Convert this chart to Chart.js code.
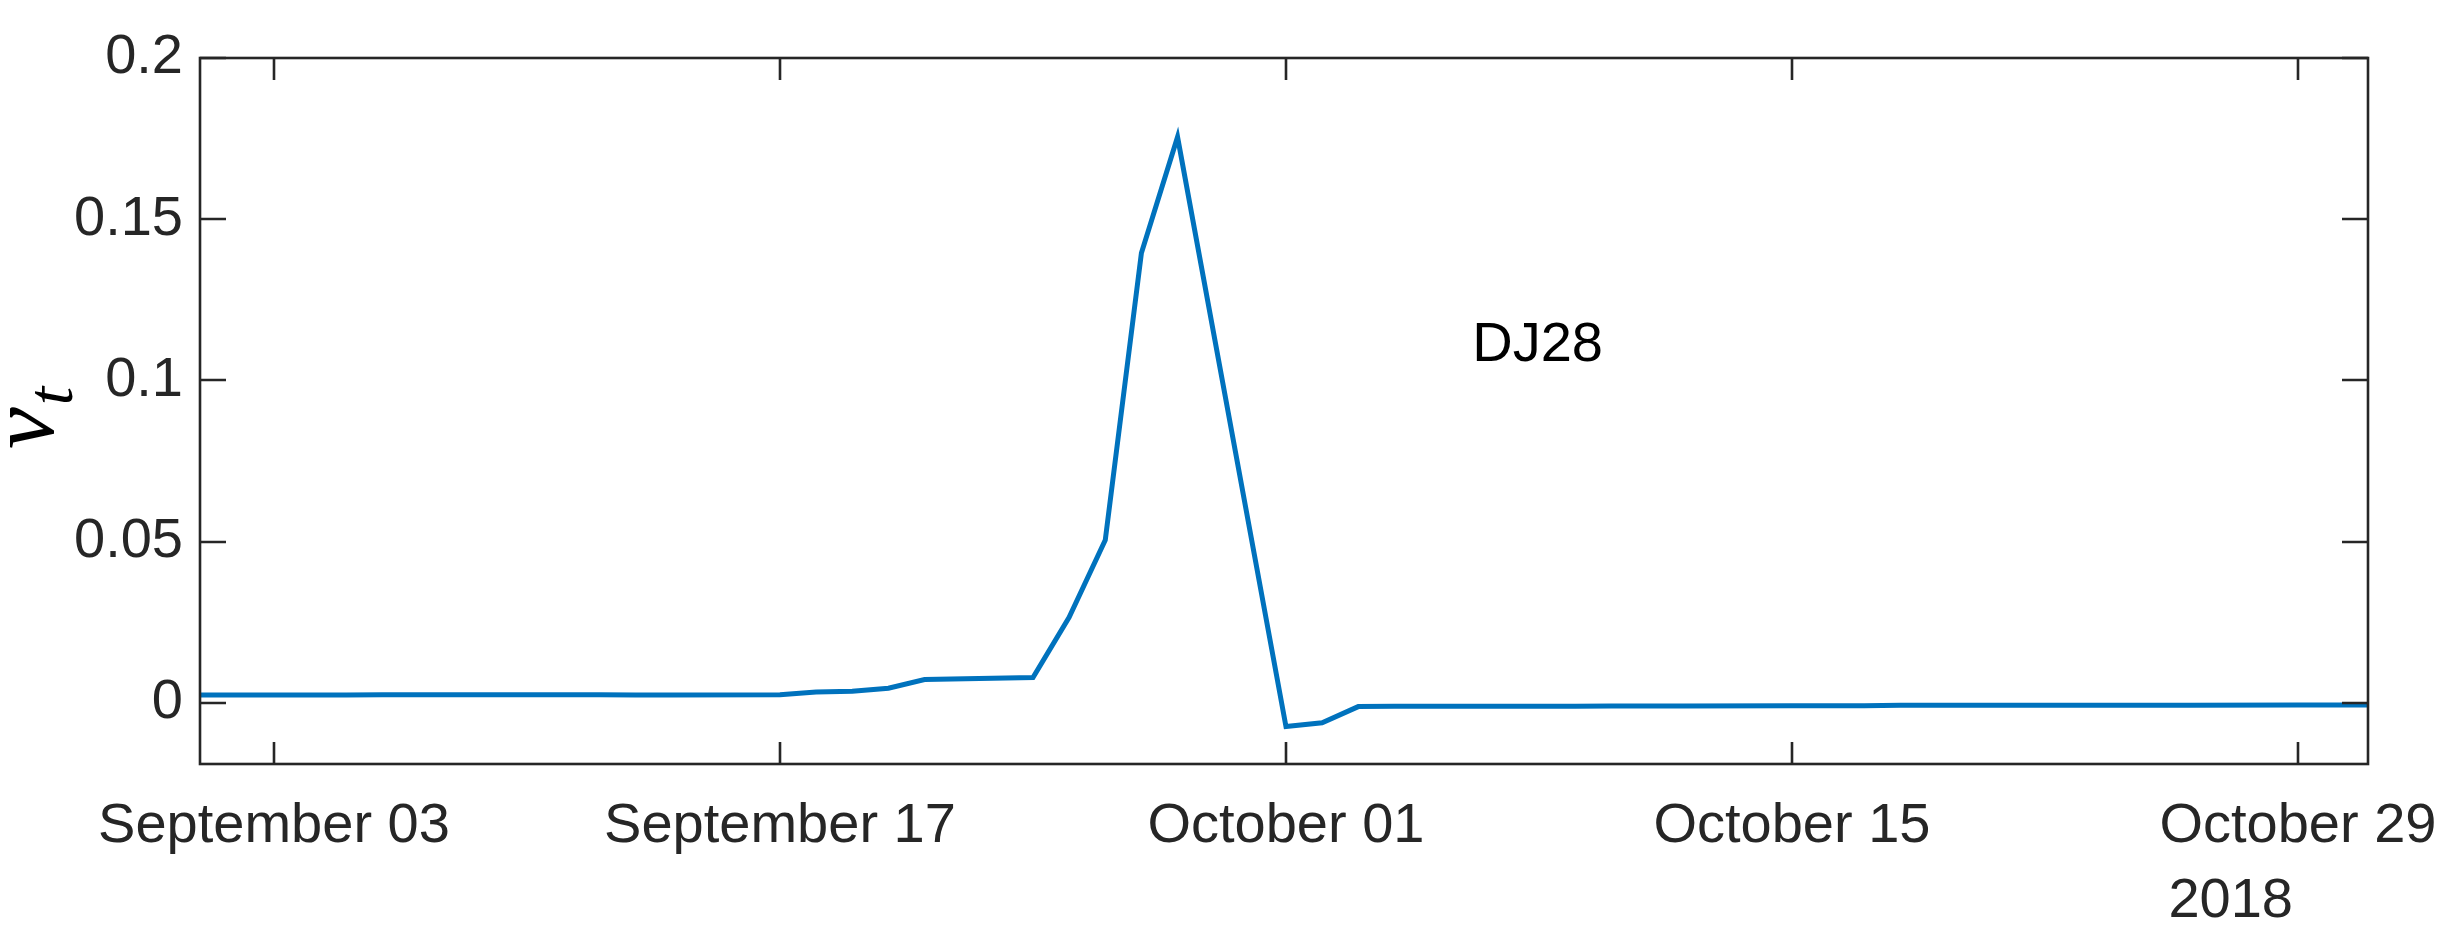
<!DOCTYPE html>
<html>
<head>
<meta charset="utf-8">
<script src="https://cdn.jsdelivr.net/npm/chart.js@4"></script>
<style>
  html, body { margin: 0; padding: 0; background: #ffffff; }
  #wrap { width: 2457px; height: 939px; }
</style>
</head>
<body>
<div id="wrap"><canvas id="c" width="2457" height="939"></canvas></div>
<script>
// ---------- data ----------
const dates = [
  '2018-08-31',
  '2018-09-03','2018-09-04','2018-09-05','2018-09-06','2018-09-07',
  '2018-09-10','2018-09-11','2018-09-12','2018-09-13','2018-09-14',
  '2018-09-17','2018-09-18','2018-09-19','2018-09-20','2018-09-21',
  '2018-09-24','2018-09-25','2018-09-26','2018-09-27','2018-09-28',
  '2018-10-01','2018-10-02','2018-10-03','2018-10-04','2018-10-05',
  '2018-10-08','2018-10-09','2018-10-10','2018-10-11','2018-10-12',
  '2018-10-15','2018-10-16','2018-10-17','2018-10-18','2018-10-19',
  '2018-10-22','2018-10-23','2018-10-24','2018-10-25','2018-10-26',
  '2018-10-29','2018-10-30','2018-10-31'
];
const nuValues = [
  0.0024,
  0.0024, 0.0024, 0.0024, 0.0025, 0.0025,
  0.0025, 0.0025, 0.0025, 0.0024, 0.0024,
  0.0025, 0.0033, 0.0036, 0.0045, 0.0072,
  0.0078, 0.0265, 0.0505, 0.1395, 0.1755,
  -0.0074, -0.0062, -0.0012, -0.0011, -0.0011,
  -0.0011, -0.0011, -0.0010, -0.0010, -0.0010,
  -0.0009, -0.0009, -0.0009, -0.0008, -0.0008,
  -0.0008, -0.0008, -0.0008, -0.0008, -0.0008,
  -0.0007, -0.0007, -0.0007
];
const xTickDates = ['2018-09-03', '2018-09-17', '2018-10-01', '2018-10-15', '2018-10-29'];
const yTickValues = [0, 0.05, 0.1, 0.15, 0.2];
const xRangeDates = ['2018-08-31T22:52', '2018-10-30T22:30'];
const yRange = [-0.019, 0.2];
const yearLabel = '2018';
const annotationText = 'DJ28';
const annotationDate = '2018-10-06T03:40';
const annotationValue = 0.1107;
const yLabelMain = 'ν';
const yLabelSub = 't';
const monthNames = ['January','February','March','April','May','June','July',
  'August','September','October','November','December'];

// ---------- helpers ----------
const originMs = Date.parse('2018-09-01T00:00Z');
const DAY = 86400000;
function dayOf(s) {
  const iso = s.length === 10 ? s + 'T00:00Z' : s + 'Z';
  return (Date.parse(iso) - originMs) / DAY;
}
function labelOfDay(d) {
  const dt = new Date(originMs + Math.round(d * DAY));
  return monthNames[dt.getUTCMonth()] + ' ' + String(dt.getUTCDate()).padStart(2, '0');
}
const points = dates.map((s, i) => ({ x: dayOf(s), y: nuValues[i] }));
const xTickValues = xTickDates.map(dayOf);

const AXIS = '#262626';
const FONT = "'Liberation Sans', Arial, Helvetica, sans-serif";

const decor = {
  id: 'decor',
  afterDraw(chart) {
    const { ctx, chartArea: a, scales } = chart;
    const x = scales.x, y = scales.y;
    ctx.save();
    ctx.strokeStyle = AXIS;
    ctx.lineWidth = 2.6;
    ctx.beginPath();
    xTickValues.forEach(v => {
      const px = Math.round(x.getPixelForValue(v));
      ctx.moveTo(px, a.bottom); ctx.lineTo(px, a.bottom - 22);
      ctx.moveTo(px, a.top); ctx.lineTo(px, a.top + 22);
    });
    yTickValues.forEach(v => {
      const py = Math.round(y.getPixelForValue(v));
      ctx.moveTo(a.left, py); ctx.lineTo(a.left + 26, py);
      ctx.moveTo(a.right, py); ctx.lineTo(a.right - 26, py);
    });
    ctx.stroke();
    ctx.strokeRect(a.left, a.top, a.right - a.left, a.bottom - a.top);

    // year label under the last date tick
    ctx.fillStyle = AXIS;
    ctx.font = '56px ' + FONT;
    ctx.textAlign = 'right';
    ctx.textBaseline = 'alphabetic';
    const lastPx = x.getPixelForValue(xTickValues[xTickValues.length - 1]);
    ctx.fillText(yearLabel, lastPx - 5, a.bottom + 153);

    // annotation
    ctx.fillStyle = '#000000';
    ctx.textAlign = 'left';
    ctx.textBaseline = 'middle';
    ctx.fillText(annotationText, x.getPixelForValue(dayOf(annotationDate)), y.getPixelForValue(annotationValue));

    // y-axis label: italic nu with subscript t, rotated
    ctx.fillStyle = '#000000';
    const cy = (a.top + a.bottom) / 2;
    ctx.translate(53, cy + 38);
    ctx.rotate(-Math.PI / 2);
    ctx.textAlign = 'left';
    ctx.textBaseline = 'alphabetic';
    ctx.font = "italic 94px 'Liberation Serif', 'DejaVu Serif', serif";
    ctx.fillText(yLabelMain, 0, 0);
    const w = ctx.measureText(yLabelMain).width;
    ctx.font = "italic 66px 'Liberation Serif', 'DejaVu Serif', serif";
    ctx.fillText(yLabelSub, w + 2, 19);
    ctx.restore();
  }
};

new Chart(document.getElementById('c'), {
  type: 'line',
  data: {
    datasets: [{
      data: points,
      borderColor: '#0072BD',
      borderWidth: 5,
      pointRadius: 0,
      tension: 0,
      fill: false,
      clip: 0
    }]
  },
  options: {
    responsive: false,
    animation: false,
    devicePixelRatio: 1,
    layout: { padding: { left: 0, top: 58, right: 89, bottom: 0 } },
    plugins: { legend: { display: false }, tooltip: { enabled: false }, title: { display: false } },
    scales: {
      x: {
        type: 'linear',
        min: dayOf(xRangeDates[0]),
        max: dayOf(xRangeDates[1]),
        afterFit(s) { s.height = 175; s.paddingLeft = 0; s.paddingRight = 0; },
        afterBuildTicks(s) { s.ticks = xTickValues.map(v => ({ value: v })); },
        grid: { display: false, drawTicks: false },
        border: { display: false },
        ticks: {
          autoSkip: false,
          maxRotation: 0,
          minRotation: 0,
          padding: 29,
          color: AXIS,
          font: { family: FONT, size: 56 },
          callback: (v) => labelOfDay(v)
        }
      },
      y: {
        type: 'linear',
        min: yRange[0],
        max: yRange[1],
        afterFit(s) { s.width = 200; s.paddingTop = 0; s.paddingBottom = 0; },
        afterBuildTicks(s) { s.ticks = yTickValues.map(v => ({ value: v })); },
        grid: { display: false, drawTicks: false },
        border: { display: false },
        ticks: {
          padding: 17,
          color: AXIS,
          font: { family: FONT, size: 56 },
          callback: (v) => String(v)
        }
      }
    }
  },
  plugins: [decor]
});
</script>
</body>
</html>
